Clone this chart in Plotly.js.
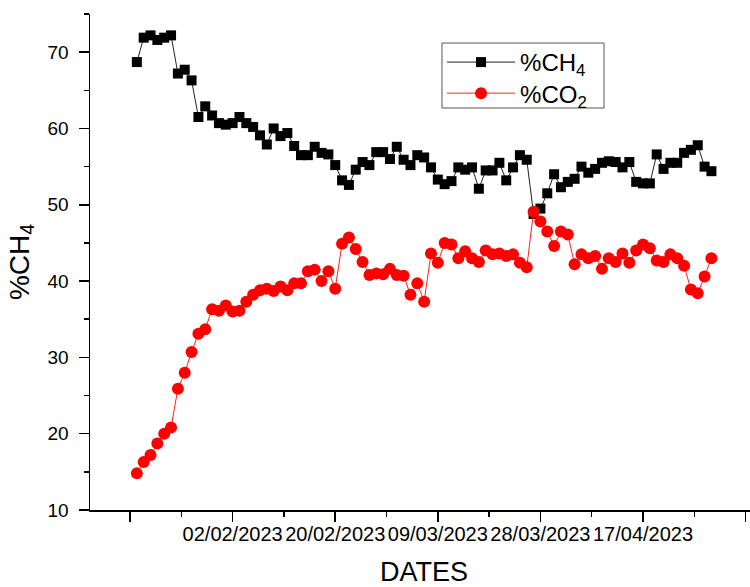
<!DOCTYPE html>
<html>
<head>
<meta charset="utf-8">
<script src="https://cdn.plot.ly/plotly-3.0.1.min.js"></script>
<style>
  html, body { margin: 0; padding: 0; background: #fff; overflow: hidden; }
  #wrap { width: 750px; height: 587px; overflow: hidden; position: relative; }
  #chart { width: 760px; height: 587px; }
</style>
</head>
<body>
<div id="wrap"><div id="chart"></div></div>
<script>
// Sample values (% of biogas), one per measurement, in order
const ch4 = [68.7, 71.9, 72.2, 71.6, 71.9, 72.2, 67.2, 67.7, 66.3, 61.5,
             62.9, 61.7, 60.7, 60.5, 60.7, 61.5, 60.7, 60.2, 59.1, 57.9,
             60.0, 59.0, 59.4, 57.7, 56.5, 56.5, 57.6, 56.8, 56.6, 55.2,
             53.2, 52.6, 54.6, 55.6, 55.2, 56.9, 56.9, 56.0, 57.6, 55.9,
             55.2, 56.5, 56.2, 54.9, 53.3, 52.7, 53.1, 54.9, 54.6, 54.9,
             52.1, 54.5, 54.5, 55.5, 53.2, 54.9, 56.5, 55.9, 48.8, 49.5,
             51.5, 54.0, 52.3, 53.0, 53.4, 55.0, 54.2, 54.7, 55.5, 55.7,
             55.6, 54.9, 55.6, 53.0, 52.8, 52.8, 56.6, 54.7, 55.5, 55.5,
             56.8, 57.2, 57.8, 55.0, 54.4];
const co2 = [14.8, 16.3, 17.2, 18.7, 20.0, 20.8, 25.9, 28.0, 30.7, 33.1,
             33.7, 36.3, 36.1, 36.8, 36.0, 36.1, 37.3, 38.2, 38.8, 39.0,
             38.7, 39.3, 38.8, 39.7, 39.7, 41.3, 41.5, 40.0, 41.3, 39.0,
             44.9, 45.7, 44.2, 42.5, 40.8, 41.0, 40.9, 41.6, 40.8, 40.7,
             38.2, 39.7, 37.3, 43.6, 42.4, 45.0, 44.8, 43.0, 43.9, 43.0,
             42.5, 44.0, 43.5, 43.6, 43.3, 43.5, 42.4, 41.8, 49.1, 47.8,
             46.5, 44.6, 46.5, 46.1, 42.2, 43.5, 43.0, 43.3, 41.6, 43.0,
             42.5, 43.6, 42.4, 44.0, 44.8, 44.3, 42.7, 42.5, 43.5, 43.0,
             42.0, 38.9, 38.4, 40.6, 43.0];
// x axis: sample number; labelled ticks show the date of that sample
const tickPositions = [0, 15, 30, 45, 60, 75, 90];
const tickLabels = ['', '02/02/2023', '20/02/2023', '09/03/2023', '28/03/2023', '17/04/2023', ''];

const sampleNo = ch4.map((_, i) => i + 1);
const FONT = 'Liberation Sans, Arial, sans-serif';

const traces = [
  {
    x: sampleNo, y: ch4, name: '%CH<sub>4</sub>', type: 'scatter', mode: 'lines+markers',
    line: {color: '#222', width: 1},
    marker: {symbol: 'square', size: 10, color: '#000'},
    legend: 'legend'
  },
  {
    x: sampleNo, y: co2, name: '%CO<sub>2</sub>', type: 'scatter', mode: 'lines+markers',
    line: {color: '#ff2020', width: 1},
    marker: {symbol: 'circle', size: 12, color: '#ff0000'},
    legend: 'legend2'
  }
];

const xr = [-5.85, 91.81];
const yr = [10, 75];

const legendCommon = {
  xanchor: 'left', yanchor: 'top',
  bgcolor: 'rgba(0,0,0,0)', borderwidth: 0,
  font: {family: FONT, size: 24, color: '#000'},
  itemwidth: 68
};

const layout = {
  width: 760, height: 587,
  margin: {l: 90, r: 2, t: 14, b: 77},
  paper_bgcolor: '#fff', plot_bgcolor: '#fff',
  font: {family: FONT, color: '#000'},
  showlegend: true,
  legend: Object.assign({x: 0.527, y: 0.9476}, legendCommon),
  legend2: Object.assign({x: 0.527, y: 0.885}, legendCommon),
  shapes: [{
    type: 'rect', xref: 'paper', yref: 'paper',
    x0: 0.5269, x1: 0.7695, y0: 0.8105, y1: 0.9415,
    line: {color: '#555', width: 1}, fillcolor: 'rgba(0,0,0,0)', layer: 'above'
  }],
  xaxis: {
    range: xr, showgrid: false, zeroline: false,
    showline: true, linecolor: '#000', linewidth: 1.5,
    tickmode: 'array', tickvals: tickPositions, ticktext: tickLabels,
    ticks: 'outside', ticklen: 10, tickwidth: 1.5, tickcolor: '#000',
    ticklabelstandoff: -5,
    minor: {dtick: 7.5, tick0: 0, ticks: 'outside', ticklen: 5, tickwidth: 1.5, tickcolor: '#000', showgrid: false},
    tickfont: {family: FONT, size: 20, color: '#000'},
    title: {text: 'DATES', font: {family: FONT, size: 27, color: '#000'}, standoff: 25}
  },
  xaxis2: {
    overlaying: 'x', side: 'top', range: xr, showgrid: false, zeroline: false,
    showline: true, linecolor: '#000', linewidth: 1.5,
    tickmode: 'array', tickvals: tickPositions, showticklabels: false,
    ticks: 'inside', ticklen: 10, tickwidth: 1.5, tickcolor: '#000',
    minor: {dtick: 7.5, tick0: 0, ticks: 'inside', ticklen: 5, tickwidth: 1.5, tickcolor: '#000', showgrid: false}
  },
  yaxis: {
    range: yr, showgrid: false, zeroline: false,
    showline: true, linecolor: '#000', linewidth: 1.5,
    tickmode: 'linear', tick0: 10, dtick: 10,
    ticks: 'outside', ticklen: 10, tickwidth: 1.5, tickcolor: '#000',
    ticklabelstandoff: 6,
    minor: {dtick: 5, tick0: 10, ticks: 'outside', ticklen: 5, tickwidth: 1.5, tickcolor: '#000', showgrid: false},
    tickfont: {family: FONT, size: 19, color: '#000'},
    title: {text: '%CH<sub>4</sub>', font: {family: FONT, size: 28, color: '#000'}, standoff: 10}
  },
  yaxis2: {
    overlaying: 'y', side: 'right', range: yr, showgrid: false, zeroline: false,
    showline: true, linecolor: '#000', linewidth: 1.5,
    tickmode: 'linear', tick0: 10, dtick: 10, showticklabels: false,
    ticks: 'inside', ticklen: 10, tickwidth: 1.5, tickcolor: '#000'
  }
};

Plotly.newPlot('chart', traces, layout, {staticPlot: true, displayModeBar: false});
</script>
</body>
</html>
